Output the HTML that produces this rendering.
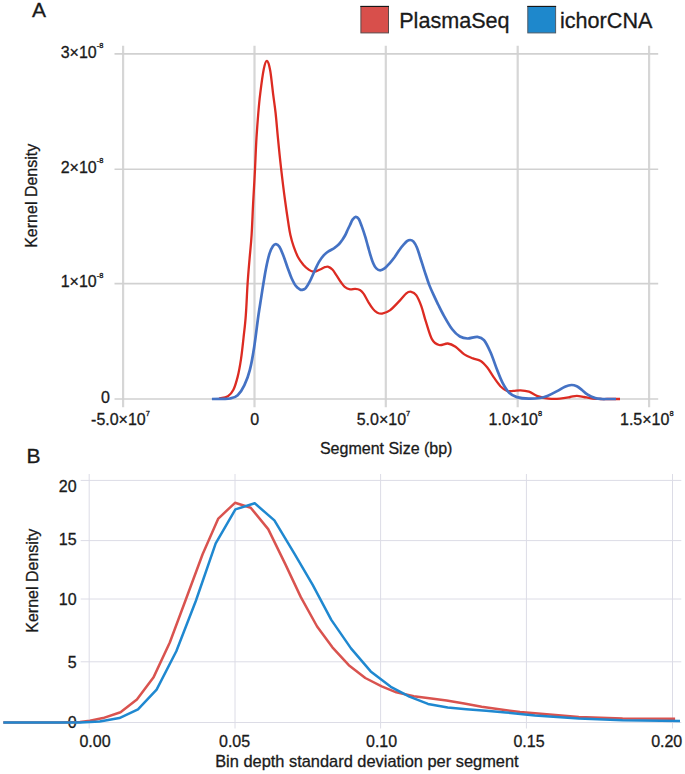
<!DOCTYPE html>
<html><head><meta charset="utf-8"><title>Kernel density</title>
<style>html,body{margin:0;padding:0;background:#fff}svg{display:block}text{font-family:"Liberation Sans",sans-serif;fill:#1a1a1a;stroke:#1a1a1a;stroke-width:0.3px;paint-order:stroke fill}</style></head><body>
<svg width="685" height="774" viewBox="0 0 685 774">
<rect width="100%" height="100%" fill="#fff"/>
<g stroke="#d1d1d1" fill="none">
<line x1="123.1" y1="45.8" x2="123.1" y2="407.2" stroke-width="2.2" stroke="#d6d6d6"/>
<line x1="254.5" y1="45.8" x2="254.5" y2="407.2" stroke-width="2.2" stroke="#d6d6d6"/>
<line x1="385.8" y1="45.8" x2="385.8" y2="407.2" stroke-width="2.2" stroke="#d6d6d6"/>
<line x1="517.7" y1="45.8" x2="517.7" y2="407.2" stroke-width="2.2" stroke="#d6d6d6"/>
<line x1="649.1" y1="45.8" x2="649.1" y2="407.2" stroke-width="2.2" stroke="#d6d6d6"/>
<line x1="114.5" y1="53.9" x2="658.2" y2="53.9" stroke-width="1.6"/>
<line x1="114.5" y1="169.2" x2="658.2" y2="169.2" stroke-width="1.6"/>
<line x1="114.5" y1="283.6" x2="658.2" y2="283.6" stroke-width="1.6"/>
<line x1="114.5" y1="399.0" x2="658.2" y2="399.0" stroke-width="1.6"/>
</g>
<path d="M219.1,398.6 C220.6,398.2 225.5,397.7 227.9,396.2 C230.3,394.7 231.8,393.1 233.4,389.8 C235.0,386.5 236.4,381.7 237.7,376.6 C239.0,371.5 240.0,365.7 241.0,359.1 C242.0,352.5 242.8,344.5 243.6,337.2 C244.4,329.9 245.2,324.0 245.8,315.3 C246.5,306.6 246.9,294.5 247.5,285.0 C248.1,275.5 248.9,266.7 249.6,258.4 C250.3,250.1 251.0,244.7 251.6,235.0 C252.2,225.3 252.7,210.9 253.3,200.0 C253.9,189.1 254.5,179.7 255.0,169.3 C255.5,158.9 255.9,147.0 256.5,137.6 C257.1,128.2 257.7,120.3 258.3,113.0 C258.9,105.7 259.3,101.0 260.2,93.8 C261.1,86.5 262.6,75.0 263.7,69.5 C264.8,64.0 265.8,60.8 266.9,61.0 C268.0,61.2 269.2,65.0 270.2,70.5 C271.2,76.0 272.2,86.7 273.1,93.8 C274.0,100.9 274.8,105.7 275.6,113.0 C276.4,120.3 277.0,128.2 277.9,137.6 C278.8,147.0 280.0,158.9 281.2,169.3 C282.4,179.7 283.8,191.1 285.0,200.0 C286.2,208.9 287.4,217.0 288.3,222.8 C289.2,228.6 289.5,231.0 290.4,235.0 C291.3,239.0 292.4,243.0 293.7,246.7 C295.0,250.4 296.5,254.2 298.1,257.2 C299.7,260.2 301.6,262.7 303.3,264.8 C305.1,266.9 306.8,268.5 308.6,269.6 C310.4,270.8 312.4,271.7 314.3,271.7 C316.2,271.7 318.4,270.2 320.2,269.5 C322.0,268.8 323.5,267.6 324.9,267.2 C326.3,266.8 327.1,266.4 328.4,266.8 C329.6,267.2 331.0,268.1 332.4,269.5 C333.8,270.9 335.1,273.3 336.5,275.3 C337.9,277.3 339.2,279.8 340.6,281.7 C342.0,283.6 343.1,285.5 344.7,286.8 C346.3,288.1 348.2,289.0 350.0,289.3 C351.8,289.6 353.6,288.7 355.2,288.8 C356.8,288.9 358.5,289.1 359.9,289.9 C361.3,290.7 362.0,291.4 363.4,293.4 C364.8,295.3 366.6,299.1 368.1,301.6 C369.7,304.1 371.1,306.8 372.7,308.6 C374.2,310.5 375.8,311.9 377.4,312.7 C379.0,313.5 380.0,314.0 382.1,313.6 C384.2,313.2 386.9,312.6 389.9,310.4 C392.8,308.2 397.1,303.4 399.8,300.6 C402.5,297.8 404.4,294.9 406.3,293.4 C408.2,291.9 409.6,291.5 411.2,291.8 C412.8,292.1 414.5,292.7 416.2,295.1 C417.9,297.5 419.7,301.7 421.3,306.1 C422.9,310.5 424.0,315.9 425.8,321.4 C427.6,326.9 429.7,335.2 431.9,339.1 C434.1,343.0 436.5,344.3 439.1,345.0 C441.8,345.7 445.1,343.2 447.8,343.5 C450.5,343.8 452.8,345.0 455.5,346.8 C458.2,348.6 461.4,352.5 464.3,354.4 C467.2,356.3 470.3,357.3 473.0,358.4 C475.7,359.5 478.3,359.5 480.7,361.0 C483.1,362.5 485.1,364.9 487.3,367.6 C489.5,370.3 491.6,374.3 493.8,377.4 C496.0,380.5 498.2,383.9 500.4,386.2 C502.6,388.4 504.8,390.1 507.0,390.9 C509.2,391.7 511.2,391.0 513.5,390.9 C515.8,390.8 517.9,390.3 520.5,390.4 C523.1,390.5 526.0,390.8 528.9,391.7 C531.8,392.6 534.3,395.0 537.6,396.1 C540.9,397.2 544.9,398.2 548.6,398.6 C552.3,399.0 556.4,398.9 560.0,398.6 C563.6,398.3 567.4,397.5 570.2,397.0 C573.0,396.5 574.5,395.8 576.8,395.8 C579.1,395.8 581.4,396.5 584.0,397.0 C586.6,397.5 589.8,398.3 592.6,398.6 C595.4,398.9 598.6,398.9 601.0,399.0 C603.4,399.1 603.8,399.0 607.0,399.0 C610.2,399.0 617.8,399.0 620.0,399.0" fill="none" stroke="#dc2b22" stroke-width="2.3" stroke-linecap="butt" stroke-linejoin="round"/>
<path d="M211.9,399.0 C213.6,399.0 219.0,399.0 222.0,398.9 C225.0,398.8 227.5,399.1 230.1,398.5 C232.7,397.9 235.3,397.4 237.7,395.2 C240.1,393.0 242.3,389.6 244.3,385.4 C246.3,381.2 248.2,376.5 249.8,370.1 C251.5,363.7 252.8,356.1 254.2,347.0 C255.6,337.9 257.2,323.9 258.4,315.5 C259.6,307.1 260.5,302.2 261.3,296.9 C262.1,291.6 262.6,288.2 263.4,283.5 C264.2,278.8 264.9,273.9 265.9,268.9 C266.9,263.9 268.3,257.5 269.5,253.7 C270.7,249.9 271.9,247.7 273.0,246.1 C274.1,244.5 274.8,244.0 275.9,244.1 C277.0,244.2 278.1,244.7 279.4,246.7 C280.7,248.7 282.1,252.5 283.5,256.0 C284.9,259.5 286.2,264.0 287.6,267.7 C289.0,271.4 290.2,275.2 291.6,278.2 C293.0,281.2 294.3,283.9 295.7,285.8 C297.1,287.7 298.7,288.6 299.8,289.3 C300.9,290.0 301.2,290.1 302.2,289.9 C303.2,289.7 304.4,289.5 305.7,288.1 C306.9,286.7 308.3,284.4 309.7,281.7 C311.1,278.9 312.8,274.9 314.3,271.6 C315.9,268.3 317.4,264.6 319.0,261.9 C320.6,259.2 322.1,257.1 323.7,255.4 C325.3,253.7 326.6,252.6 328.4,251.4 C330.1,250.2 332.4,249.3 334.2,248.1 C335.9,246.9 337.5,245.7 338.9,244.3 C340.3,242.9 341.3,241.2 342.4,239.7 C343.5,238.1 344.4,236.7 345.3,235.0 C346.2,233.3 347.0,231.2 347.8,229.5 C348.6,227.8 349.2,226.7 350.0,225.0 C350.8,223.3 351.7,221.0 352.6,219.6 C353.6,218.2 354.7,216.9 355.7,216.8 C356.7,216.7 357.8,217.4 358.8,219.0 C359.8,220.6 360.7,223.4 361.8,226.4 C362.9,229.4 364.3,233.6 365.3,236.9 C366.3,240.2 367.1,243.4 368.0,246.5 C368.9,249.6 369.7,252.9 370.6,255.7 C371.5,258.5 372.2,261.1 373.2,263.2 C374.1,265.3 375.1,267.2 376.3,268.4 C377.5,269.6 378.8,270.3 380.2,270.3 C381.6,270.3 383.1,269.5 384.6,268.4 C386.1,267.3 387.7,265.5 389.4,263.6 C391.1,261.7 392.9,259.4 394.7,257.0 C396.4,254.6 398.4,251.2 399.9,249.2 C401.3,247.2 402.2,246.2 403.4,244.9 C404.6,243.6 405.9,242.0 407.0,241.2 C408.1,240.4 409.1,240.0 410.1,240.0 C411.2,240.0 412.2,240.2 413.3,241.4 C414.4,242.6 415.6,244.5 416.8,247.2 C418.0,249.9 419.0,253.8 420.3,257.7 C421.6,261.6 422.9,266.1 424.4,270.6 C425.9,275.1 427.6,280.5 429.1,284.6 C430.7,288.7 432.1,291.7 433.7,295.1 C435.2,298.5 436.8,301.7 438.4,305.0 C440.0,308.3 441.2,310.9 443.5,315.0 C445.8,319.1 449.5,325.7 452.2,329.3 C454.9,332.9 457.3,335.0 459.9,336.5 C462.5,338.0 464.7,338.4 467.6,338.5 C470.5,338.6 474.7,336.6 477.4,336.9 C480.1,337.2 481.8,337.6 484.0,340.2 C486.2,342.8 488.3,347.4 490.5,352.3 C492.7,357.2 495.1,364.7 497.1,369.8 C499.1,374.9 500.6,379.1 502.6,382.9 C504.6,386.7 506.8,390.4 509.2,392.8 C511.6,395.2 513.5,396.1 516.8,397.1 C520.1,398.1 525.1,398.6 528.9,398.7 C532.7,398.8 536.6,398.5 539.8,398.0 C543.0,397.5 545.0,396.8 547.9,395.7 C550.8,394.6 554.2,392.6 557.1,391.1 C560.0,389.6 562.6,387.7 565.0,386.7 C567.4,385.7 569.5,385.1 571.5,385.0 C573.5,384.9 575.0,385.5 576.8,386.3 C578.5,387.1 580.2,388.6 582.0,390.0 C583.8,391.4 585.1,393.0 587.3,394.4 C589.5,395.8 592.8,397.3 595.2,398.1 C597.6,398.9 599.7,398.9 601.8,399.0 C603.9,399.1 605.6,399.0 608.0,399.0 C610.4,399.0 614.7,399.0 616.0,399.0" fill="none" stroke="#4472c4" stroke-width="2.7" stroke-linecap="butt" stroke-linejoin="round"/>
<text x="32" y="17" font-size="21">A</text>
<text x="26.6" y="463.3" font-size="21">B</text>
<rect x="360.9" y="6.5" width="27.6" height="26.4" fill="#d84f4b" stroke="#5a4a4a" stroke-width="1"/>
<line x1="360.4" y1="6.4" x2="389" y2="6.4" stroke="#151515" stroke-width="1.1"/>
<text x="399.2" y="27.6" font-size="21.6">PlasmaSeq</text>
<rect x="527.8" y="6.5" width="27.8" height="26.4" fill="#1e88cc" stroke="#4d5a66" stroke-width="1"/>
<line x1="527.3" y1="6.4" x2="556.1" y2="6.4" stroke="#151515" stroke-width="1.1"/>
<text x="560" y="27.6" font-size="21.6">ichorCNA</text>
<text x="103.4" y="57.6" font-size="16.0" text-anchor="end">3×10<tspan font-size="7.5" dy="-9.3">-8</tspan></text>
<text x="103.4" y="172.6" font-size="16.0" text-anchor="end">2×10<tspan font-size="7.5" dy="-9.3">-8</tspan></text>
<text x="103.4" y="287.2" font-size="16.0" text-anchor="end">1×10<tspan font-size="7.5" dy="-9.3">-8</tspan></text>
<text x="110.0" y="403" font-size="16" text-anchor="end">0</text>
<text x="120.5" y="424.9" font-size="16.0" text-anchor="middle">-5.0×10<tspan font-size="7.5" dy="-9.3">7</tspan></text>
<text x="254.6" y="424.9" font-size="16" text-anchor="middle">0</text>
<text x="383.5" y="424.9" font-size="16.0" text-anchor="middle">5.0×10<tspan font-size="7.5" dy="-9.3">7</tspan></text>
<text x="515.4" y="424.9" font-size="16.0" text-anchor="middle">1.0×10<tspan font-size="7.5" dy="-9.3">8</tspan></text>
<text x="646.8" y="424.9" font-size="16.0" text-anchor="middle">1.5×10<tspan font-size="7.5" dy="-9.3">8</tspan></text>
<text x="386.2" y="453.9" font-size="16" text-anchor="middle">Segment Size (bp)</text>
<text transform="translate(37.2,195.8) rotate(-90)" font-size="16" text-anchor="middle">Kernel Density</text>
<g stroke="#dcdce6" stroke-width="1" fill="none">
<line x1="89.2" y1="474" x2="89.2" y2="728.5"/>
<line x1="235.0" y1="474" x2="235.0" y2="728.5"/>
<line x1="380.6" y1="474" x2="380.6" y2="728.5"/>
<line x1="526.4" y1="474" x2="526.4" y2="728.5"/>
<line x1="672.5" y1="474" x2="672.5" y2="728.5"/>
<line x1="80.7" y1="480.4" x2="681.3" y2="480.4"/>
<line x1="80.7" y1="540.6" x2="681.3" y2="540.6"/>
<line x1="80.7" y1="599.0" x2="681.3" y2="599.0"/>
<line x1="80.7" y1="661.8" x2="681.3" y2="661.8"/>
<line x1="80.7" y1="722.5" x2="681.3" y2="722.5"/>
</g>
<text x="76.6" y="491.9" font-size="16" text-anchor="end">20</text>
<text x="76.6" y="544.5" font-size="16" text-anchor="end">15</text>
<text x="76.6" y="605.4" font-size="16" text-anchor="end">10</text>
<text x="76.6" y="667.9" font-size="16" text-anchor="end">5</text>
<text x="76.6" y="727.6" font-size="16" text-anchor="end">0</text>
<text x="95.0" y="747.3" font-size="16" text-anchor="middle">0.00</text>
<text x="234.6" y="747.3" font-size="16" text-anchor="middle">0.05</text>
<text x="381.6" y="747.3" font-size="16" text-anchor="middle">0.10</text>
<text x="529.0" y="747.3" font-size="16" text-anchor="middle">0.15</text>
<text x="666.7" y="747.3" font-size="16" text-anchor="middle">0.20</text>
<text x="366.9" y="766.9" font-size="16.4" text-anchor="middle">Bin depth standard deviation per segment</text>
<text transform="translate(38.3,580.7) rotate(-90)" font-size="16" text-anchor="middle">Kernel Density</text>
<path d="M3.3,722.5 L60.0,722.5 L80.0,722.0 L89.9,720.7 L103.0,718.1 L120.5,712.2 L136.9,699.5 L153.4,677.6 L169.8,642.5 L186.2,598.5 L202.6,554.3 L218.3,518.6 L235.0,502.8 L250.7,507.7 L268.2,529.1 L285.3,564.1 L300.7,596.9 L317.1,626.5 L332.4,647.3 L348.8,665.2 L365.3,678.0 L381.7,686.3 L396.3,692.3 L413.8,696.2 L431.3,698.4 L446.6,700.6 L464.2,703.6 L481.7,706.7 L499.2,709.3 L520.0,712.0 L535.0,713.3 L578.8,717.1 L622.6,718.6 L675.1,718.8" fill="none" stroke="#d9534f" stroke-width="2.5" stroke-linecap="butt" stroke-linejoin="round"/>
<path d="M3.3,722.5 L60.0,722.5 L80.0,722.6 L99.7,721.4 L119.4,718.1 L138.0,709.3 L156.6,689.6 L176.3,651.3 L195.8,601.0 L215.7,543.4 L235.4,509.4 L254.7,503.3 L274.4,520.4 L294.1,553.1 L312.7,584.9 L331.3,619.9 L351.0,648.4 L370.7,671.4 L390.8,686.8 L409.4,696.6 L428.0,703.9 L447.7,707.6 L466.3,709.3 L486.1,710.7 L505.8,712.4 L535.0,715.5 L578.8,718.6 L622.6,720.3 L680.0,721.0" fill="none" stroke="#1f88d0" stroke-width="2.5" stroke-linecap="butt" stroke-linejoin="round"/>
</svg></body></html>
